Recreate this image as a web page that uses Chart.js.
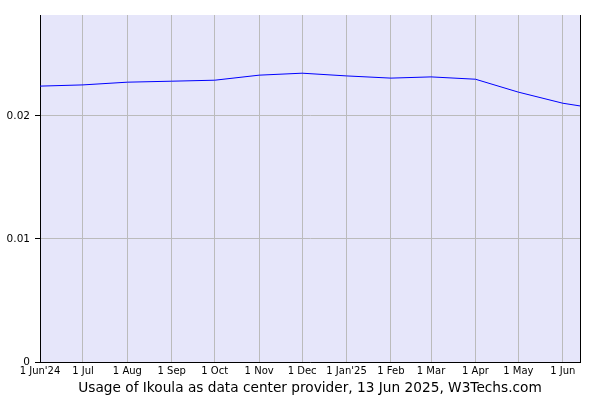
<!DOCTYPE html>
<html>
<head>
<meta charset="utf-8">
<script src="https://cdn.jsdelivr.net/npm/chart.js@4"></script>
<style>
  body { margin: 0; background: #fff; }
</style>
</head>
<body>
<canvas id="myChart" width="600" height="400"></canvas>
<script>
// days since 1 Jun 2024
var tickDays = [0, 30, 61, 92, 122, 153, 183, 214, 245, 273, 304, 334, 365]
var tickLabels = ["1 Jun'24", "1 Jul", "1 Aug", "1 Sep", "1 Oct", "1 Nov", "1 Dec", "1 Jan'25", "1 Feb", "1 Mar", "1 Apr", "1 May", "1 Jun"]
var pointDays = [0, 30, 61, 92, 122, 153, 183, 214, 245, 273, 304, 334, 365, 377]
var usage = [0.02242, 0.02252, 0.02274, 0.02282, 0.02290, 0.02331, 0.02347, 0.02325, 0.02307, 0.02317, 0.02298, 0.02193, 0.02103, 0.02081]
var yTicks = [0, 0.01, 0.02]
var titleText = "Usage of Ikoula as data center provider, 13 Jun 2025, W3Techs.com"

var plotBg = {
    id: 'plotBg',
    beforeDraw: function (chart) {
        var a = chart.chartArea
        var ctx = chart.ctx
        ctx.save()
        ctx.fillStyle = '#e6e6fa'
        ctx.fillRect(a.left, a.top, a.right - a.left, a.bottom - a.top)
        ctx.restore()
    }
}

var ctx = document.getElementById('myChart').getContext('2d')
var myChart = new Chart(ctx, {
    type: 'line',
    data: {
        datasets: [{
            data: pointDays.map(function (d, i) { return { x: d, y: usage[i] } }),
            borderColor: '#0000ff',
            borderWidth: 1,
            pointRadius: 0,
            tension: 0,
            fill: false
        }]
    },
    options: {
        responsive: false,
        animation: false,
        layout: { padding: { top: 15, left: 0, right: 0, bottom: 0 } },
        plugins: {
            legend: { display: false },
            tooltip: { enabled: false }
        },
        scales: {
            x: {
                type: 'linear',
                min: 0,
                max: 377,
                afterBuildTicks: function (scale) {
                    scale.ticks = tickDays.map(function (d) { return { value: d } })
                },
                afterFit: function (scale) { scale.height = 38 },
                ticks: {
                    autoSkip: false,
                    maxRotation: 0,
                    padding: 3,
                    color: '#000',
                    font: { family: 'DejaVu Sans', size: 10 },
                    callback: function (v) {
                        var i = tickDays.indexOf(v)
                        return i >= 0 ? tickLabels[i] : ''
                    }
                },
                grid: { color: '#bbbbbb', drawTicks: false },
                border: { color: '#000', width: 1 },
                title: {
                    display: true,
                    text: titleText,
                    color: '#000',
                    font: { family: 'DejaVu Sans', size: 13.7 },
                    padding: { top: 0, bottom: 3 }
                }
            },
            y: {
                min: 0,
                max: 0.0282,
                afterBuildTicks: function (scale) {
                    scale.ticks = yTicks.map(function (v) { return { value: v } })
                },
                afterFit: function (scale) { scale.width = 40 },
                ticks: {
                    padding: 5,
                    color: '#000',
                    font: { family: 'DejaVu Sans', size: 10.5 },
                    callback: function (v) { return String(v) }
                },
                grid: { color: '#bbbbbb', tickColor: '#000', tickLength: 5 },
                border: { color: '#000', width: 1 }
            },
            y2: {
                position: 'right',
                min: 0,
                max: 1,
                afterFit: function (scale) { scale.width = 20 },
                ticks: { display: false },
                grid: { display: false, drawTicks: false },
                border: { color: '#000', width: 1 }
            }
        }
    },
    plugins: [plotBg]
})
</script>
</body>
</html>
